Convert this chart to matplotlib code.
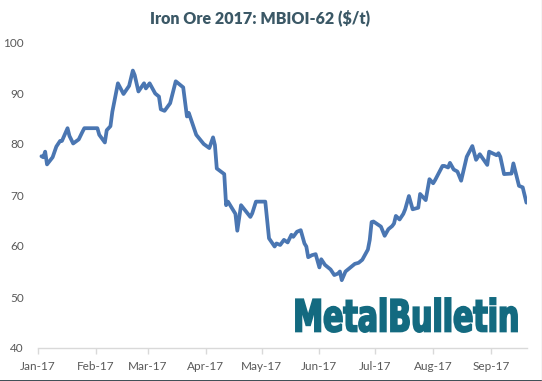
import numpy as np
import pandas as pd
import matplotlib
matplotlib.use("Agg")
import matplotlib.pyplot as plt
import matplotlib.dates as mdates
from matplotlib.textpath import TextPath
from matplotlib.patches import PathPatch
from matplotlib.font_manager import FontProperties
from matplotlib.transforms import Affine2D

# ----------------------------------------------------------------------
# Data: MBIOI-62 price ($/t)
# ----------------------------------------------------------------------

DATES = [
    "2017-01-03", "2017-01-04", "2017-01-05", "2017-01-06", "2017-01-09",
    "2017-01-11", "2017-01-13", "2017-01-14", "2017-01-17", "2017-01-18",
    "2017-01-20", "2017-01-23", "2017-01-25", "2017-01-26", "2017-02-02",
    "2017-02-03", "2017-02-06", "2017-02-07", "2017-02-09", "2017-02-10",
    "2017-02-13", "2017-02-16", "2017-02-19", "2017-02-21", "2017-02-22",
    "2017-02-24", "2017-02-27", "2017-02-28", "2017-03-02", "2017-03-05",
    "2017-03-07", "2017-03-08", "2017-03-10", "2017-03-13", "2017-03-16",
    "2017-03-20", "2017-03-22", "2017-03-23", "2017-03-27", "2017-03-31",
    "2017-04-03", "2017-04-05", "2017-04-06", "2017-04-07", "2017-04-11",
    "2017-04-12", "2017-04-13", "2017-04-17", "2017-04-18", "2017-04-20",
    "2017-04-25", "2017-04-26", "2017-04-28", "2017-05-03", "2017-05-05",
    "2017-05-08", "2017-05-09", "2017-05-11", "2017-05-13", "2017-05-15",
    "2017-05-17", "2017-05-18", "2017-05-20", "2017-05-22", "2017-05-24",
    "2017-05-25", "2017-05-26", "2017-05-28", "2017-05-30", "2017-06-01",
    "2017-06-02", "2017-06-04", "2017-06-07", "2017-06-09", "2017-06-11",
    "2017-06-12", "2017-06-13", "2017-06-15", "2017-06-17", "2017-06-20",
    "2017-06-22", "2017-06-24", "2017-06-27", "2017-06-28", "2017-06-29",
    "2017-06-30", "2017-07-04", "2017-07-06", "2017-07-08", "2017-07-10",
    "2017-07-11", "2017-07-12", "2017-07-14", "2017-07-16", "2017-07-17",
    "2017-07-19", "2017-07-21", "2017-07-24", "2017-07-25", "2017-07-28",
    "2017-07-30", "2017-08-01", "2017-08-02", "2017-08-06", "2017-08-07",
    "2017-08-09", "2017-08-10", "2017-08-12", "2017-08-14", "2017-08-16",
    "2017-08-19", "2017-08-22", "2017-08-24", "2017-08-26", "2017-08-30",
    "2017-08-31", "2017-09-04", "2017-09-05", "2017-09-06", "2017-09-08",
    "2017-09-12", "2017-09-13", "2017-09-16", "2017-09-18", "2017-09-20",
]

PRICES = [
    77.6, 77.4, 78.5, 76.0, 77.4,
    79.5, 80.6, 80.6, 83.1, 81.6,
    80.1, 80.9, 82.4, 83.1, 83.1,
    81.8, 80.3, 82.7, 83.5, 86.3,
    91.9, 89.8, 91.4, 94.4, 93.5,
    90.3, 91.9, 90.9, 91.9, 89.9,
    89.3, 86.8, 86.5, 88.0, 92.3,
    91.1, 85.4, 86.1, 81.8, 80.0,
    79.2, 81.3, 79.8, 75.2, 74.1,
    68.0, 68.7, 66.3, 63.0, 68.0,
    65.7, 66.4, 68.7, 68.7, 61.5,
    59.9, 60.5, 60.2, 61.2, 60.7,
    62.2, 61.8, 62.8, 63.1, 60.5,
    59.9, 57.8, 58.2, 58.4, 55.8,
    57.4, 56.3, 55.4, 54.3, 54.6,
    55.0, 53.3, 55.0, 55.6, 56.5,
    56.7, 57.3, 59.3, 61.2, 64.7,
    64.8, 63.8, 62.0, 63.3, 63.9,
    64.4, 65.9, 65.2, 66.3, 67.2,
    69.8, 67.2, 67.5, 70.2, 69.0,
    73.1, 72.3, 72.9, 75.7, 75.7,
    75.4, 76.3, 75.0, 74.6, 72.8,
    77.5, 79.6, 76.9, 78.0, 75.9,
    78.5, 77.8, 78.2, 77.5, 74.1,
    74.2, 76.2, 71.8, 71.5, 68.5,
]

TITLE = "Iron Ore 2017: MBIOI-62 ($/t)"
Y_TICKS = [40, 50, 60, 70, 80, 90, 100]
X_TICKS = ["2017-01-01", "2017-02-01", "2017-03-01", "2017-04-01", "2017-05-01",
           "2017-06-01", "2017-07-01", "2017-08-01", "2017-09-01"]

LINE_COLOR = "#4a76b2"
TEXT_COLOR = "#595959"
TITLE_COLOR = "#3b5866"
LOGO_COLOR = "#136a80"
AXIS_COLOR = "#d9d9d9"

W, H = 542, 381

fig = plt.figure(figsize=(W / 100, H / 100), dpi=100)
ax = fig.add_axes([37.7 / W, (H - 348) / H, (527 - 37.7) / W, (348 - 42) / H])

dates = pd.to_datetime(DATES)
ax.plot(dates, PRICES, color=LINE_COLOR, linewidth=2.7, solid_joinstyle="round",
        solid_capstyle="round", zorder=3)

ax.set_ylim(40, 100)
ax.set_yticks(Y_TICKS)
ax.set_xlim(pd.Timestamp("2017-01-01"), pd.Timestamp("2017-01-01") + pd.Timedelta(days=262.3))
ax.set_xticks(pd.to_datetime(X_TICKS))
ax.xaxis.set_major_formatter(mdates.DateFormatter("%b-%y"))

for side in ["top", "right", "left"]:
    ax.spines[side].set_visible(False)
ax.spines["bottom"].set_color(AXIS_COLOR)
ax.spines["bottom"].set_linewidth(1.0)
ax.tick_params(axis="y", length=0, pad=10, labelsize=8.5, labelcolor=TEXT_COLOR)
ax.tick_params(axis="x", direction="out", length=4, width=1.0, color=AXIS_COLOR,
               pad=5, labelsize=8.5, labelcolor=TEXT_COLOR)
for lab in ax.get_xticklabels() + ax.get_yticklabels():
    lab.set_family("Lato")

fig.text(260.5 / W, 1 - 18 / H, TITLE, ha="center", va="center", fontsize=11.5,
         fontweight="heavy", color=TITLE_COLOR, family="Lato")

# Logo text, stretched into its box
fp = FontProperties(family="DejaVu Sans", weight="bold")
tp = TextPath((0, 0), "MetalBulletin", prop=fp, size=10)
ext = tp.get_extents()
bx0, bx1 = 296 / W, 517 / W
by0, by1 = (H - 332) / H, (H - 298) / H
tr = (Affine2D().translate(-ext.x0, -ext.y0)
      .scale((bx1 - bx0) / ext.width, (by1 - by0) / ext.height)
      .translate(bx0, by0))
logo = PathPatch(tr.transform_path(tp), facecolor=LOGO_COLOR, edgecolor=LOGO_COLOR,
                 linewidth=1.4, joinstyle="miter", transform=fig.transFigure)
fig.add_artist(logo)

# image frame
fig.add_artist(plt.Line2D([0, 1], [0.5 / H, 0.5 / H], transform=fig.transFigure,
                          color="#2a3c44", linewidth=2))
fig.add_artist(plt.Line2D([1 - 0.5 / W, 1 - 0.5 / W], [0, 1], transform=fig.transFigure,
                          color="#d0d0d0", linewidth=1))

fig.savefig("out.png", dpi=100)
